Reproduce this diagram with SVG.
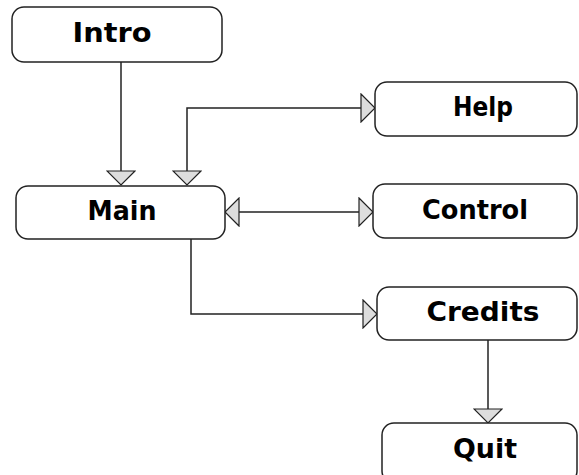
<svg xmlns="http://www.w3.org/2000/svg" width="579" height="475" viewBox="0 0 579 475">
<style>
.box{fill:#fff;stroke:#222;stroke-width:1.5}
.lbl{font-family:"DejaVu Sans",sans-serif;font-weight:bold;font-size:27px;fill:#000;text-anchor:middle}
.conn{fill:none;stroke:#222;stroke-width:1.5}
</style>
<defs>
<marker id="tri" viewBox="0 0 16 30" refX="15" refY="15" markerWidth="16" markerHeight="30" markerUnits="userSpaceOnUse" orient="auto-start-reverse">
<path d="M1,1 L15,15 L1,29 Z" fill="#ddd" stroke="#222" stroke-width="1.2"/>
</marker>
</defs>
<rect width="579" height="475" fill="#fff"/>
<g id="connectors">
<path class="conn" d="M121,62 V185" marker-end="url(#tri)"/>
<path class="conn" d="M187,185 V108 H375" marker-start="url(#tri)" marker-end="url(#tri)"/>
<path class="conn" d="M225,212 H373" marker-start="url(#tri)" marker-end="url(#tri)"/>
<path class="conn" d="M191,239 V314 H377" marker-end="url(#tri)"/>
<path class="conn" d="M488,340 V423" marker-end="url(#tri)"/>
</g>
<g id="intro"><rect class="box" x="12" y="7" width="210" height="55" rx="12"/><text class="lbl" x="112" y="42" textLength="79" lengthAdjust="spacingAndGlyphs">Intro</text></g>
<g id="main"><rect class="box" x="16" y="186" width="209" height="53" rx="12"/><text class="lbl" x="122" y="220" textLength="69" lengthAdjust="spacingAndGlyphs">Main</text></g>
<g id="help"><rect class="box" x="375" y="82" width="202" height="54" rx="12"/><text class="lbl" x="483" y="116" textLength="60" lengthAdjust="spacingAndGlyphs">Help</text></g>
<g id="control"><rect class="box" x="373" y="184" width="204" height="54" rx="12"/><text class="lbl" x="475" y="219" textLength="106" lengthAdjust="spacingAndGlyphs">Control</text></g>
<g id="credits"><rect class="box" x="377" y="287" width="200" height="53" rx="12"/><text class="lbl" x="483" y="321" textLength="113" lengthAdjust="spacingAndGlyphs">Credits</text></g>
<g id="quit"><rect class="box" x="382" y="423" width="195" height="60" rx="12"/><text class="lbl" x="485" y="458" textLength="64" lengthAdjust="spacingAndGlyphs">Quit</text></g>
</svg>
